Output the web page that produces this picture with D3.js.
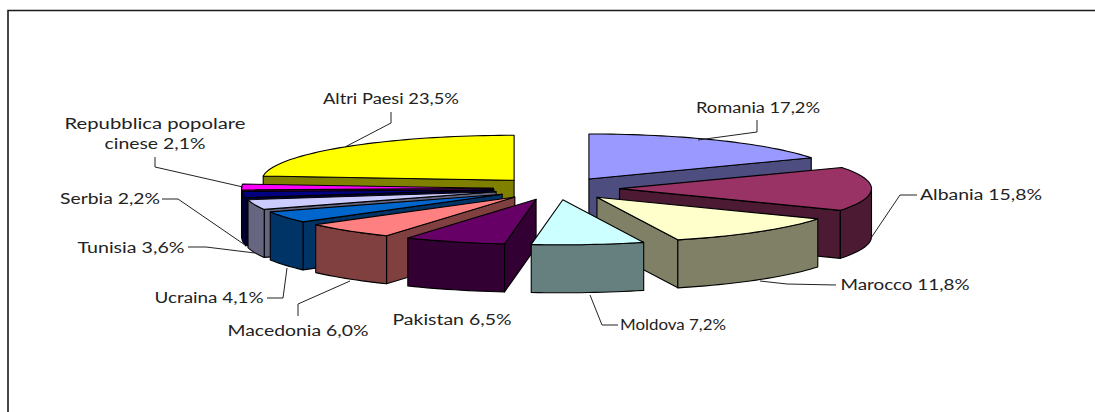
<!DOCTYPE html>
<html>
<head>
<meta charset="utf-8">
<script src="https://cdn.jsdelivr.net/npm/d3@7/dist/d3.min.js"></script>
<style>html,body{margin:0;padding:0;background:#fff}svg{display:block}</style>
</head>
<body>
<svg id="c" width="1095" height="412"></svg>
<script>
const categories = ["Romania","Albania","Marocco","Moldova","Pakistan","Macedonia","Ucraina","Tunisia","Serbia","Repubblica popolare cinese","Altri Paesi"];
const values = [17.2,15.8,11.8,7.2,6.5,6.0,4.1,3.6,2.2,2.1,23.5];
const colors = ["#9999FF","#993366","#FFFFCC","#CCFFFF","#660066","#FF8080","#0066CC","#CCCCFF","#000080","#FF00FF","#FFFF00"];

// label placement: text lines, centre, fitted width, leader polyline
const labelLayout = [
 {lines:[{t:"Romania 17,2%",x:758,y:108,w:124}],leader:[[757,120],[757,132],[698,140]]},
 {lines:[{t:"Albania 15,8%",x:981,y:195,w:122}],leader:[[917,195],[900,195],[871,238]]},
 {lines:[{t:"Marocco 11,8%",x:905,y:285,w:129}],leader:[[836,285],[787,284],[760,281]]},
 {lines:[{t:"Moldova 7,2%",x:673,y:325,w:106}],leader:[[618,325],[602,325],[590,295]]},
 {lines:[{t:"Pakistan 6,5%",x:452,y:320,w:119}],leader:null},
 {lines:[{t:"Macedonia 6,0%",x:298,y:331,w:141}],leader:[[298,316],[298,304],[350,281]]},
 {lines:[{t:"Ucraina 4,1%",x:209,y:298,w:109}],leader:[[267,298],[283,298],[287,268]]},
 {lines:[{t:"Tunisia 3,6%",x:131,y:248,w:107}],leader:[[188,247],[206,247],[255,253]]},
 {lines:[{t:"Serbia 2,2%",x:110,y:199,w:100}],leader:[[162,199],[178,199],[245,245]]},
 {lines:[{t:"Repubblica popolare",x:155,y:124,w:181},{t:"cinese 2,1%",x:155,y:144,w:101}],leader:[[155,157],[155,167],[243,187]]},
 {lines:[{t:"Altri Paesi 23,5%",x:391,y:99,w:136}],leader:[[391,112],[391,123],[345,147]]}
];

const svg = d3.select("#c");
const W = 1095, H = 412;
const cx = 556.5, cy = 188.6, Rx = 252, Ry = 45, explode = 0.25, depth = 48;
const sx = d3.scaleLinear().domain([-1,1]).range([cx-Rx,cx+Rx]);
const sy = d3.scaleLinear().domain([-1,1]).range([cy-Ry,cy+Ry]);

const pie = d3.pie().sort(null).value(d=>d.value).startAngle(0).endAngle(2*Math.PI);
const slices = pie(categories.map((name,i)=>({name,value:values[i],color:colors[i]})));

const line = d3.line();
const half = c => { const r = d3.rgb(c); return d3.rgb(r.r/2,r.g/2,r.b/2).formatHex(); };

slices.forEach(s=>{
  s.mid = (s.startAngle+s.endAngle)/2;
  s.ox = explode*Math.sin(s.mid);
  s.oy = -explode*Math.cos(s.mid);
  s.apex = [sx(s.ox), sy(s.oy)];
  s.rim = a => [sx(s.ox+Math.sin(a)), sy(s.oy-Math.cos(a))];
});
const drop = p => [p[0], p[1]+depth];
const arcPts = (s,a0,a1) => {
  const n = Math.max(2, Math.ceil((a1-a0)/0.03));
  return d3.range(n+1).map(i=>s.rim(a0+(a1-a0)*i/n));
};

// frame
svg.append("path").attr("d",line([[8,H],[8,10.5],[W,10.5]]))
  .attr("fill","none").attr("stroke","#1a1a1a").attr("stroke-width",1.6);

const order = slices.slice().sort((a,b)=>a.apex[1]-b.apex[1]);
const g = svg.append("g").attr("stroke","#000").attr("stroke-width",1.1).attr("stroke-linejoin","round");

order.forEach(s=>{
  const side = half(s.data.color);
  const a0 = s.startAngle, a1 = s.endAngle;
  const face = pts => g.append("path").attr("d",line(pts)+"Z").attr("fill",side);
  // radial walls facing the viewer
  if (Math.sin(a0) < 0) { const r = s.rim(a0); face([s.apex,r,drop(r),drop(s.apex)]); }
  if (Math.sin(a1) > 0) { const r = s.rim(a1); face([s.apex,r,drop(r),drop(s.apex)]); }
  // outer wall, front half only
  const w0 = Math.max(a0,Math.PI/2), w1 = Math.min(a1,3*Math.PI/2);
  if (w1 > w0) {
    const top = arcPts(s,w0,w1);
    face(top.concat(top.slice().reverse().map(drop)));
  }
  // top face
  g.append("path").attr("d",line([s.apex].concat(arcPts(s,a0,a1)))+"Z").attr("fill",s.data.color);
});

// leaders
svg.append("g").selectAll("path").data(labelLayout.filter(d=>d.leader)).join("path")
  .attr("d",d=>line(d.leader)).attr("fill","none").attr("stroke","#222").attr("stroke-width",1);

// labels
svg.append("g").selectAll("text").data(labelLayout.flatMap(d=>d.lines)).join("text")
  .attr("x",d=>d.x).attr("y",d=>d.y).attr("dy","0.35em")
  .attr("text-anchor","middle")
  .attr("font-family","Lato, 'Open Sans', sans-serif").attr("font-size",14.5)
  .attr("fill","#222")
  .attr("textLength",d=>d.w).attr("lengthAdjust","spacingAndGlyphs")
  .text(d=>d.t);
</script>
</body>
</html>
